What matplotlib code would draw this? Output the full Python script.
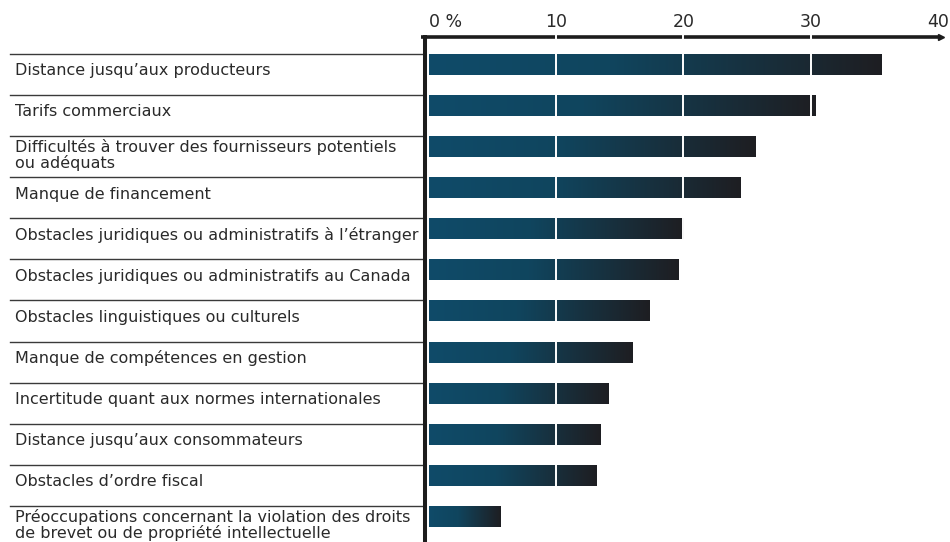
import numpy as np
import matplotlib
matplotlib.use("Agg")
import matplotlib.pyplot as plt
from matplotlib.colors import LinearSegmentedColormap
from matplotlib.transforms import blended_transform_factory

categories = [
    "Distance jusqu\u2019aux producteurs",
    "Tarifs commerciaux",
    "Difficult\u00e9s \u00e0 trouver des fournisseurs potentiels\nou ad\u00e9quats",
    "Manque de financement",
    "Obstacles juridiques ou administratifs \u00e0 l\u2019\u00e9tranger",
    "Obstacles juridiques ou administratifs au Canada",
    "Obstacles linguistiques ou culturels",
    "Manque de comp\u00e9tences en gestion",
    "Incertitude quant aux normes internationales",
    "Distance jusqu\u2019aux consommateurs",
    "Obstacles d\u2019ordre fiscal",
    "Pr\u00e9occupations concernant la violation des droits\nde brevet ou de propri\u00e9t\u00e9 intellectuelle",
]
values = [35.6, 30.4, 25.7, 24.5, 20.0, 19.65, 17.3, 16.0, 14.1, 13.5, 13.2, 5.6]
tick_values = [0, 10, 20, 30, 40]
tick_labels = ["0 %", "10", "20", "30", "40"]
grid_values = [10, 20, 30]

W, H = 950, 542
fig = plt.figure(figsize=(W / 100, H / 100), dpi=100)
ax_left, ax_w, ax_top = 429, 512, 37
ax = fig.add_axes([ax_left / W, 0, ax_w / W, (H - ax_top) / H])
px_per_unit = 12.72
row = 41.1
y_top = -0.41
for s in ax.spines.values():
    s.set_visible(False)

cmap = LinearSegmentedColormap.from_list(
    "bar", [(0, "#0f4b69"), (0.4, "#10455e"), (1.0, "#1e1e22")])
grad = np.linspace(0, 1, 256).reshape(1, -1)
bar_h = 0.51
for i, v in enumerate(values):
    ax.imshow(grad, extent=(0, v, i + bar_h, i), cmap=cmap, aspect="auto",
              interpolation="bilinear", zorder=2)

ax.set_xlim(0, ax_w / px_per_unit)
ax.set_ylim(y_top + (H - ax_top) / row, y_top)

font = "DejaVu Sans"
bt = blended_transform_factory(ax.transAxes, ax.transData)
sep_x0 = (10 - ax_left) / ax_w
sep_x1 = (425 - ax_left) / ax_w
lab_x = (15 - ax_left) / ax_w
text_color = "#2a2a2a"
for i, lab in enumerate(categories):
    ax.plot([sep_x0, sep_x1], [i, i], transform=bt, clip_on=False,
            color="#3a3a3a", lw=1.0, zorder=1)
    off = 0.46 if "\n" in lab else 0.41
    ax.text(lab_x, i + off, lab, transform=bt, ha="left", va="center",
            fontsize=11.5, color=text_color, linespacing=0.95,
            family=font)

# top axis line
ax.plot([(421 - ax_left) / ax_w, (938 - ax_left) / ax_w], [1, 1],
        transform=ax.transAxes, clip_on=False, color="#1c1c1c", lw=2.6,
        solid_capstyle="butt", zorder=3)
ax.plot([(941 - ax_left) / ax_w], [1], marker=">", markersize=4.5,
        color="#1c1c1c", transform=ax.transAxes, clip_on=False, zorder=3)
# left axis line
ax.plot([(425 - ax_left) / ax_w] * 2, [0, 1.004], transform=ax.transAxes,
        clip_on=False, color="#1c1c1c", lw=2.9, solid_capstyle="butt",
        zorder=5)

for g in grid_values:
    ax.plot([g, g], [0, 1.01], transform=blended_transform_factory(ax.transData, ax.transAxes),
            clip_on=False, color="white", lw=1.4, zorder=4)

ax.xaxis.tick_top()
ax.set_xticks(tick_values)
ax.set_xticklabels(tick_labels, fontsize=12.5, color=text_color, family=font)
ax.tick_params(axis="x", length=0, pad=4)
ax.tick_params(axis="y", left=False, labelleft=False)
labs = ax.get_xticklabels()
labs[0].set_ha("left")
labs[0].set_x(-0.45)

fig.savefig("out.png", dpi=100)
